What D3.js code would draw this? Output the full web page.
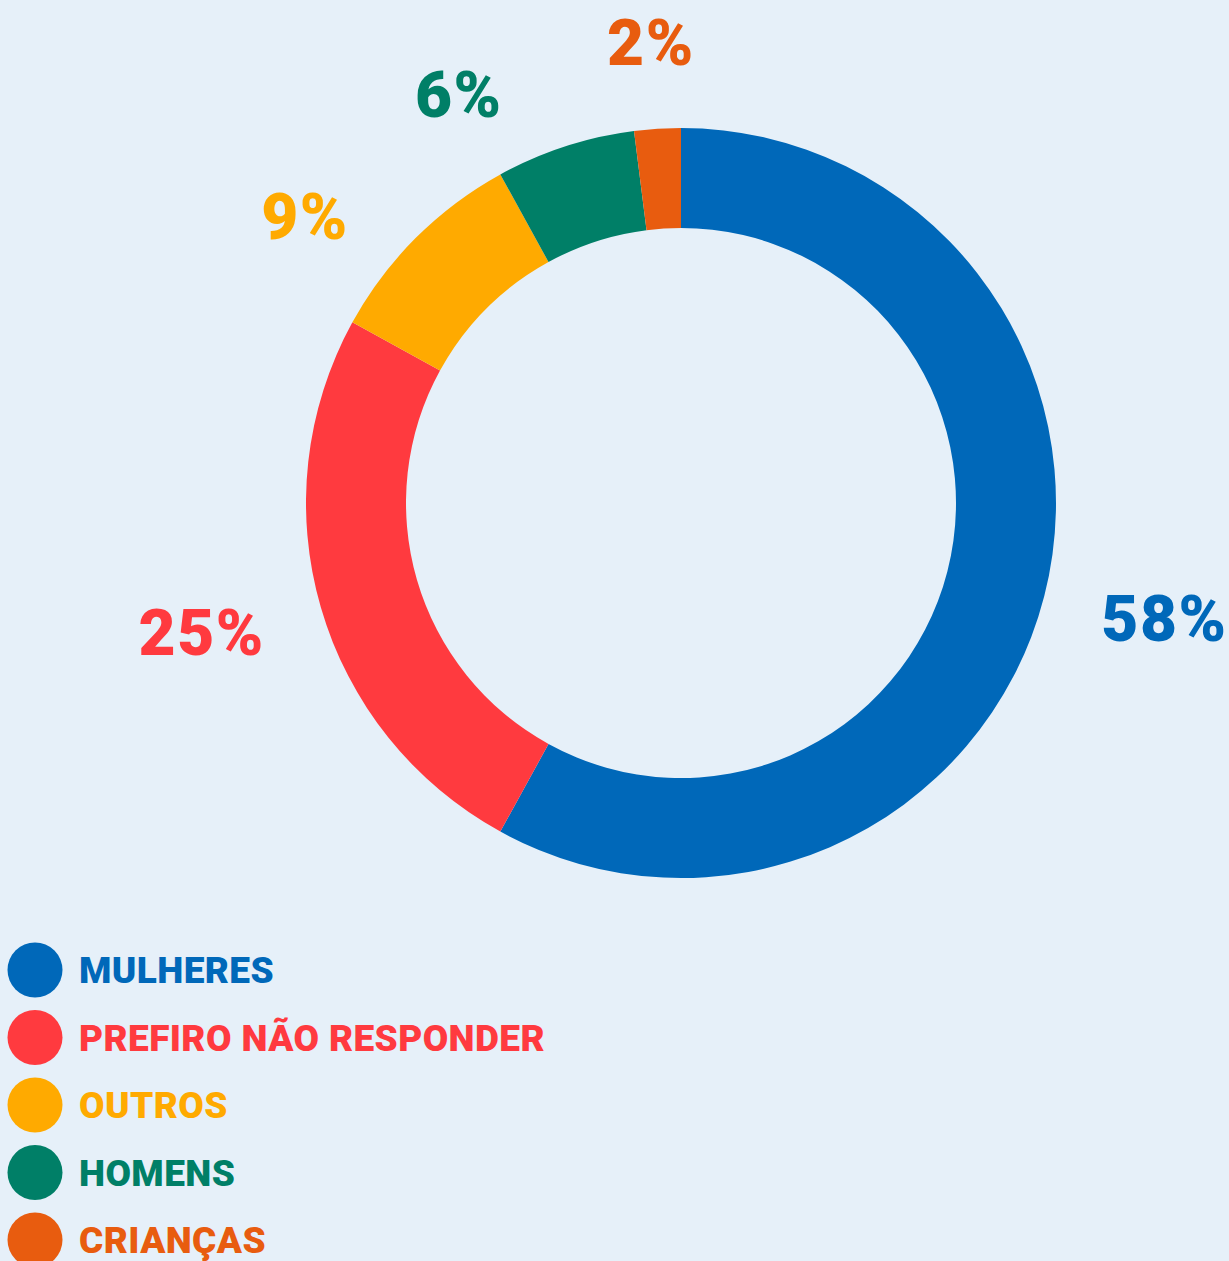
<!DOCTYPE html>
<html>
<head>
<meta charset="utf-8">
<script src="https://cdn.jsdelivr.net/npm/d3@7"></script>
<style>
  html, body { margin: 0; padding: 0; background: #e6f0f9; }
  svg { display: block; }
  text { font-family: Roboto, "Open Sans", sans-serif; font-weight: 900; }
</style>
</head>
<body>
<script>
// chart data
var categories = ["MULHERES", "PREFIRO NÃO RESPONDER", "OUTROS", "HOMENS", "CRIANÇAS"];
var values = [58, 25, 9, 6, 2];
var colors = ["#0068b9", "#ff3a3f", "#ffaa00", "#007f67", "#e85c0f"];

var width = 1229;
var height = 1261;
var cx = 681, cy = 503;
var outerR = 375, innerR = 275;
var labelR = 436;

var data = categories.map(function(c, i) {
  return { name: c, value: values[i], color: colors[i] };
});

var svg = d3.select("body").append("svg")
    .attr("width", width)
    .attr("height", height);

svg.append("rect")
    .attr("width", width)
    .attr("height", height)
    .attr("fill", "#e6f0f9");

var pie = d3.pie()
    .sort(null)
    .value(function(d) { return d.value; });

var arc = d3.arc()
    .innerRadius(innerR)
    .outerRadius(outerR);

var arcs = pie(data);

var g = svg.append("g")
    .attr("transform", "translate(" + cx + "," + cy + ")");

g.selectAll("path")
    .data(arcs)
    .enter().append("path")
    .attr("d", arc)
    .attr("fill", function(d) { return d.data.color; });

// label angles, pushed apart so the small slices don't collide
var minSep = 24 * Math.PI / 180;
var angles = arcs.map(function(d) { return (d.startAngle + d.endAngle) / 2; });
for (var i = angles.length - 2; i >= 0; i--) {
  angles[i] = Math.min(angles[i], angles[i + 1] - minSep);
}

var labels = g.selectAll("text.pct")
    .data(arcs)
    .enter().append("text")
    .attr("class", "pct")
    .attr("dy", "0.36em")
    .attr("text-anchor", "middle")
    .attr("font-size", 64)
    .attr("letter-spacing", 1.5)
    .attr("fill", function(d) { return d.data.color; })
    .text(function(d) { return d.data.value + "%"; });

// push each label box outward from its anchor point on the label circle
labels.each(function(d, i) {
  var w = this.getComputedTextLength();
  var hh = 26;
  var a = angles[i];
  var sx = Math.sin(a), sy = -Math.cos(a);
  d3.select(this)
      .attr("x", labelR * sx + (w / 2) * sx)
      .attr("y", labelR * sy + hh * sy);
});

// legend
var legend = svg.append("g")
    .attr("transform", "translate(0,970)");

var item = legend.selectAll("g")
    .data(data)
    .enter().append("g")
    .attr("transform", function(d, i) { return "translate(0," + (i * 67.5) + ")"; });

item.append("circle")
    .attr("cx", 35)
    .attr("cy", 0)
    .attr("r", 27.5)
    .attr("fill", function(d) { return d.color; });

item.append("text")
    .attr("x", 79)
    .attr("y", 13)
    .attr("font-size", 37)
    .attr("letter-spacing", 0.4)
    .attr("fill", function(d) { return d.color; })
    .text(function(d) { return d.name; });
</script>
</body>
</html>
